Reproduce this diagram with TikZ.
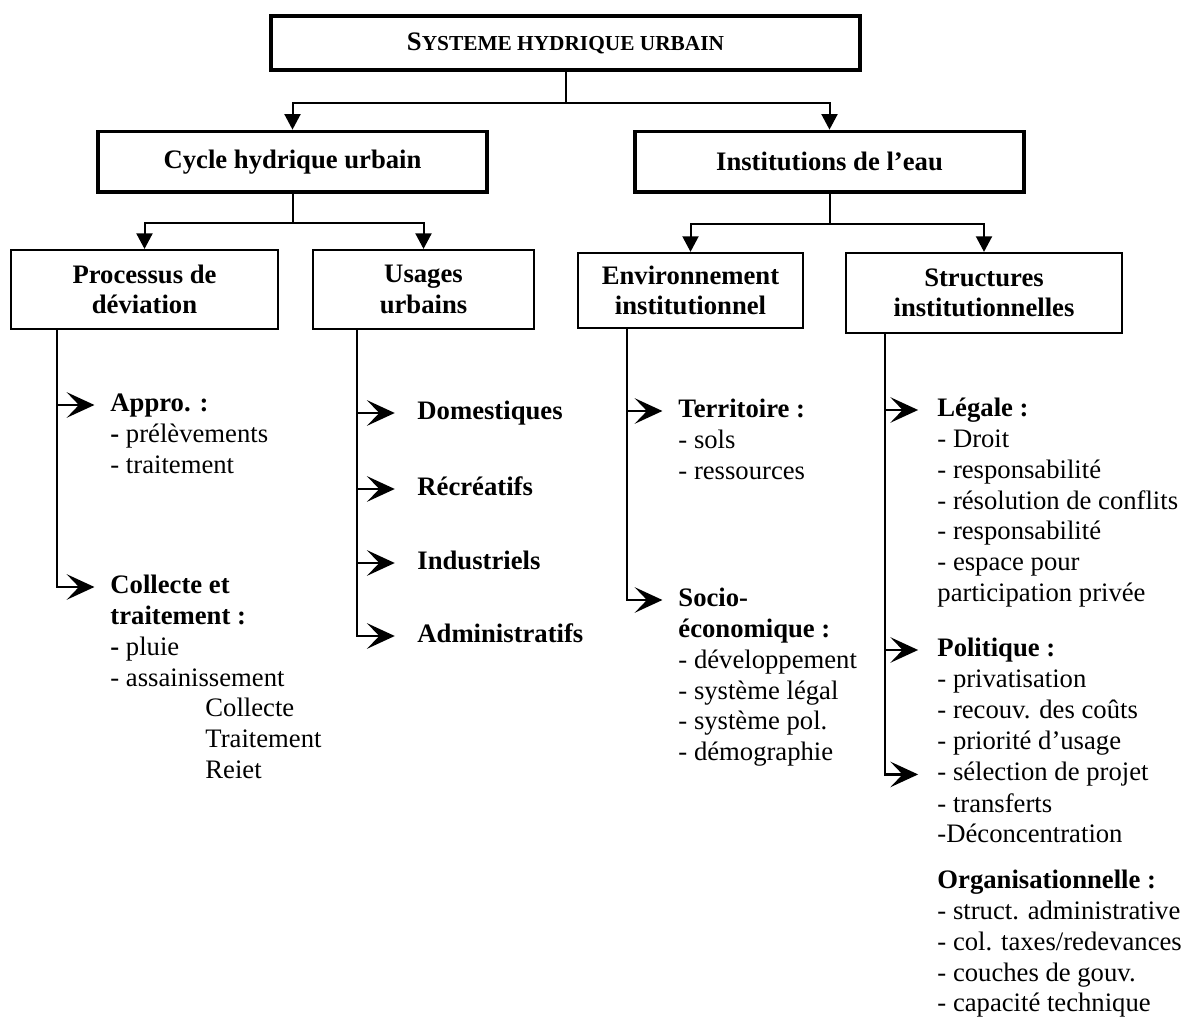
\documentclass[tikz,border=0pt]{standalone}
\usepackage{fontspec}
\setmainfont{Liberation Serif}
\usepackage{tikz}
\usetikzlibrary{arrows.meta, positioning}

\newcommand{\basefont}{\fontsize{12}{13.8}\selectfont}
\newcommand{\fakesc}[2]{\textbf{#1}{\fontsize{9.6}{11}\selectfont\bfseries #2}}

\begin{document}
\begin{tikzpicture}[x=0.45pt, y=-0.45pt]
    % Styles
    \tikzstyle{mainbox} = [rectangle, draw, line width=1.7pt, inner sep=0pt, align=center, font=\basefont\bfseries]
    \tikzstyle{subbox} = [rectangle, draw, line width=1pt, inner sep=0pt, align=center, font=\basefont\bfseries]
    \tikzstyle{head} = [anchor=west, inner sep=0pt, text height=9.66pt, text depth=4.14pt, font=\basefont\bfseries]
    \tikzstyle{items} = [anchor=north west, inner sep=0pt, align=left, font=\basefont, execute at end node=\strut]
    \tikzstyle{line} = [draw, line width=0.9pt, -{Triangle[length=7pt, width=7.2pt]}]
    \tikzstyle{trunk} = [draw, line width=0.9pt]
    \tikzstyle{branch} = [draw, line width=1pt, -{Stealth[length=12.5pt, width=11.5pt, inset=5.5pt]}, shorten >=7pt]

    \useasboundingbox (0,0) rectangle (1181,1019);

    % Boxes
    \node [mainbox, minimum width=265pt, minimum height=24.3pt] (top) at (565.5,43) {\fakesc{S}{YSTEME HYDRIQUE URBAIN}};
    \node [mainbox, minimum width=175pt, minimum height=27.2pt] (cycle) at (292.5,161.75) {Cycle hydrique urbain};
    \node [mainbox, minimum width=175pt, minimum height=27.2pt] (inst) at (829.5,161.75) {Institutions de l’eau};
    \node [subbox, minimum width=120.2pt, minimum height=35.5pt] (proc) at (144.5,289.5) {Processus de\\déviation};
    \node [subbox, minimum width=99.5pt, minimum height=35.5pt] (usages) at (423.5,289.5) {Usages\\urbains};
    \node [subbox, minimum width=101.3pt, minimum height=33.8pt] (env) at (690.5,290.5) {Environnement\\institutionnel};
    \node [subbox, minimum width=124.2pt, minimum height=36pt] (struct) at (984,293) {Structures\\institutionnelles};

    % Paths
    \path [trunk] (top.south) -- ++(0,31) coordinate (topsplit);
    \path [line] (topsplit) -| (cycle.north);
    \path [line] (topsplit) -| (inst.north);
    \path [trunk] (cycle.south) -- ++(0,29) coordinate (cyclesplit);
    \path [line] (cyclesplit) -| (proc.north);
    \path [line] (cyclesplit) -| (usages.north);
    \path [trunk] (inst.south) -- ++(0,30) coordinate (instsplit);
    \path [line] (instsplit) -| (env.north);
    \path [line] (instsplit) -| (struct.north);

    % Processus de deviation
    \node [head] (appro) at (110,405) {Appro. :};
    \node [items] (approlist) at (appro.south west) {\strut\textbf{-} prélèvements\\- traitement};
    \node [head] (collecte) at (110,587) {Collecte et};
    \node [items] (collectelist) at (collecte.south west) {\strut\textbf{traitement :}\\\textbf{-} pluie\\- assainissement\\\hspace*{42.75pt}Collecte\\\hspace*{42.75pt}Traitement\\\hspace*{42.75pt}Reiet};
    \path [branch] (proc.south west) ++(47,0) |- (appro.west);
    \path [branch] (proc.south west) ++(47,0) |- (collecte.west);

    % Usages urbains
    \node [head] (domest) at (417,413) {Domestiques};
    \node [head] (recre) at (417,489) {Récréatifs};
    \node [head] (indus) at (417,563) {Industriels};
    \node [head] (admin) at (417,636) {Administratifs};
    \foreach \n in {domest, recre, indus, admin}
        \path [branch, shorten >=10pt] (usages.south west) ++(45,0) |- (\n.west);

    % Environnement institutionnel
    \node [head] (terr) at (678,411) {Territoire :};
    \node [items] (terrlist) at (terr.south west) {\strut- sols\\- ressources};
    \node [head] (socio) at (678,600) {Socio-};
    \node [items] (sociolist) at (socio.south west) {\strut\textbf{économique :}\\- développement\\- système légal\\- système pol.\\- démographie};
    \path [branch] (env.south west) ++(50,0) |- (terr.west);
    \path [branch] (env.south west) ++(50,0) |- (socio.west);

    % Structures institutionnelles
    \node [head] (legale) at (937,410) {Légale :};
    \node [items] (legalelist) at (legale.south west) {\strut- Droit\\- responsabilité\\- résolution de conflits\\- responsabilité\\- espace pour\\participation privée};
    \node [head] (polit) at (937,650) {Politique :};
    \node [items] (politlist) at (polit.south west) {\strut- privatisation\\- recouv. des coûts\\- priorité d’usage};
    \node [head, anchor=north west, font=\basefont] (select) at (politlist.south west) {- sélection de projet};
    \node [items] (selectlist) at (select.south west) {\strut- transferts\\-Déconcentration};
    \node [head] (orga) at (937,882) {Organisationnelle :};
    \node [items] (orgalist) at (orga.south west) {\strut- struct. administrative\\- col. taxes/redevances\\- couches de gouv.\\- capacité technique};
    \path [branch, shorten >=8.5pt] (struct.south west) ++(40,0) |- (legale.west);
    \path [branch, shorten >=8.5pt] (struct.south west) ++(40,0) |- (polit.west);
    \path [branch, shorten >=8.5pt] (struct.south west) ++(40,0) |- (select.west);

\end{tikzpicture}
\end{document}
